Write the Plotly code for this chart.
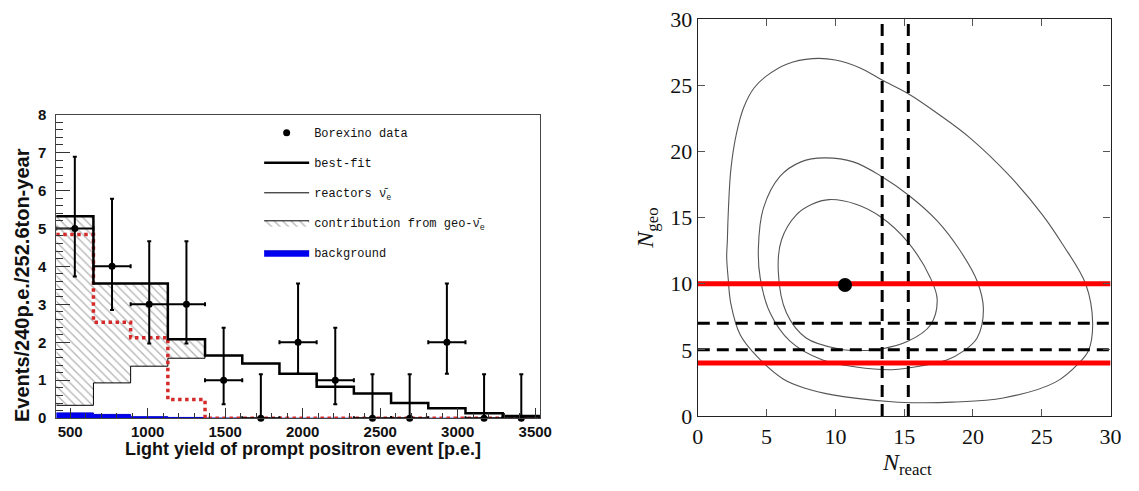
import plotly.graph_objects as go

# ---------------- Left panel data ----------------
bin_edges = [410, 650, 890, 1130, 1370, 1610, 1850, 2090, 2330, 2570, 2810, 3050, 3290, 3530]
bin_centers = [530, 770, 1010, 1250, 1490, 1730, 1970, 2210, 2450, 2690, 2930, 3170, 3410]
data_counts = [5, 4, 3, 3, 1, 0, 2, 1, 0, 0, 2, 0, 0]
data_err_up = [1.89, 1.78, 1.66, 1.66, 1.38, 1.16, 1.55, 1.38, 1.16, 1.16, 1.55, 1.16, 1.16]
data_err_down = [1.27, 1.15, 1.03, 1.03, 0.63, 0, 0.83, 0.63, 0, 0, 0.83, 0, 0]
bin_half_width = 120
best_fit = [5.32, 3.55, 3.55, 2.08, 1.65, 1.44, 1.17, 0.83, 0.65, 0.40, 0.26, 0.13, 0.06]
reactors = [0.34, 0.93, 1.37, 1.58, 1.65, 1.44, 1.17, 0.83, 0.65, 0.40, 0.26, 0.13, 0.06]
geo_spectrum = [4.84, 2.53, 2.12, 0.49, 0, 0, 0, 0, 0, 0, 0, 0, 0]
background = [0.14, 0.10, 0.04, 0.02, 0.005, 0, 0, 0, 0, 0, 0, 0, 0]

# ---------------- Right panel data ----------------
contour_outer_x = [2.1, 2.15, 2.2, 2.4, 2.8, 3.35, 4.1, 5.0, 6.5, 8.35, 10.0, 11.8, 13.36, 15.3, 17.5, 19.8, 22.7, 25.05, 26.5, 28.2, 28.7, 28.4, 27.7, 26.0, 22.2, 18.5, 16.2, 14.1, 9.8, 7.8, 6.2, 4.3, 3.1, 2.4, 2.2, 2.1]
contour_outer_y = [12.0, 13.3, 15.0, 18.6, 21.3, 23.35, 24.8, 25.7, 26.6, 27.0, 26.9, 26.3, 25.4, 24.35, 22.8, 21.0, 18.1, 15.2, 13.0, 9.96, 7.0, 4.95, 4.0, 2.56, 1.36, 1.05, 1.0, 1.08, 1.6, 2.1, 2.8, 4.5, 6.1, 8.5, 10.5, 12.0]
contour_mid_x = [4.4, 4.77, 5.97, 7.5, 9.2, 11.3, 13.36, 15.3, 17.4, 19.0, 20.3, 20.76, 20.3, 19.3, 18.1, 15.3, 14.1, 11.5, 9.07, 6.7, 5.25, 4.54, 4.4]
contour_mid_y = [12.6, 15.7, 18.1, 19.2, 19.5, 19.2, 18.1, 16.7, 14.75, 12.6, 10.2, 8.06, 5.9, 4.9, 4.23, 3.63, 3.5, 3.7, 4.23, 5.66, 7.8, 10.4, 12.6]
contour_in_x = [5.85, 6.08, 7.16, 8.3, 9.55, 11.5, 13.36, 15.3, 16.9, 17.4, 16.9, 15.3, 13.36, 11.8, 10.26, 7.87, 6.44, 5.85]
contour_in_y = [10.9, 13.3, 15.2, 16.0, 16.35, 16.0, 15.0, 13.1, 10.45, 8.8, 6.86, 5.66, 5.07, 4.95, 5.07, 5.9, 7.8, 10.9]
best_point = (10.7, 9.9)
red_geo_levels = [10, 4]
dashed_geo_levels = [7, 5]
dashed_react_levels = [13.4, 15.3]
right_range = [0, 30]
right_ticks = [0, 5, 10, 15, 20, 25, 30]


def steps(vals):
    return vals + [vals[-1]]


fig = go.Figure()

# reactors (thin line) - base for hatch
fig.add_trace(go.Scatter(
    x=bin_edges, y=steps(reactors), mode="lines", line=dict(color="black", width=1, shape="hv"),
    name="reactors ν̄<sub>e</sub>", legendrank=3, legendgroup="c", xaxis="x", yaxis="y"))
# geo contribution hatch
fig.add_trace(go.Scatter(
    x=bin_edges, y=steps(best_fit), mode="lines", line=dict(color="black", width=1, shape="hv"),
    fill="tonexty", fillcolor="white",
    fillpattern=dict(shape="\\", fgcolor="#6a6a6a", bgcolor="white", size=6, solidity=0.22),
    name="contribution from geo-ν̄<sub>e</sub>", legendrank=4, legendgroup="d", xaxis="x", yaxis="y"))
# background
fig.add_trace(go.Scatter(
    x=bin_edges, y=steps(background), mode="lines", line=dict(color="#0000cc", width=1, shape="hv"),
    fill="tozeroy", fillcolor="#0000f0",
    name="background", legendrank=5, legendgroup="e", xaxis="x", yaxis="y"))
# geo spectrum red dotted
fig.add_trace(go.Scatter(
    x=bin_edges, y=steps(geo_spectrum), mode="lines",
    line=dict(color="#d42a2a", width=3.5, shape="hv", dash="dot"),
    showlegend=False, xaxis="x", yaxis="y"))
# best fit thick
fig.add_trace(go.Scatter(
    x=bin_edges, y=steps(best_fit), mode="lines", line=dict(color="black", width=2.5, shape="hv"),
    name="best-fit", legendrank=2, legendgroup="b", xaxis="x", yaxis="y"))
# data
fig.add_trace(go.Scatter(
    x=bin_centers, y=data_counts, mode="markers",
    marker=dict(color="black", size=7),
    error_y=dict(type="data", symmetric=False, array=data_err_up, arrayminus=data_err_down,
                 color="black", thickness=2, width=2),
    error_x=dict(type="constant", value=bin_half_width, color="black", thickness=2, width=2),
    name="Borexino data", legendrank=1, legendgroup="a", cliponaxis=False, xaxis="x", yaxis="y"))

# ---------------- Right panel ----------------
for cx, cy in [(contour_outer_x, contour_outer_y), (contour_mid_x, contour_mid_y), (contour_in_x, contour_in_y)]:
    fig.add_trace(go.Scatter(x=cx, y=cy, mode="lines",
                             line=dict(color="#555555", width=1.1, shape="spline", smoothing=1.0),
                             showlegend=False, xaxis="x2", yaxis="y2"))
for lv in dashed_geo_levels:
    fig.add_trace(go.Scatter(x=right_range, y=[lv, lv], mode="lines",
                             line=dict(color="black", width=3, dash="12px,7px"),
                             showlegend=False, xaxis="x2", yaxis="y2"))
for lv in dashed_react_levels:
    fig.add_trace(go.Scatter(x=[lv, lv], y=right_range, mode="lines",
                             line=dict(color="black", width=3, dash="12px,7px"),
                             showlegend=False, xaxis="x2", yaxis="y2"))
for lv in red_geo_levels:
    fig.add_trace(go.Scatter(x=right_range, y=[lv, lv], mode="lines",
                             line=dict(color="#ff0000", width=5),
                             showlegend=False, xaxis="x2", yaxis="y2"))
fig.add_trace(go.Scatter(x=[best_point[0]], y=[best_point[1]], mode="markers",
                         marker=dict(color="black", size=14),
                         showlegend=False, xaxis="x2", yaxis="y2"))

W, H = 1139, 491
sans_bold = dict(family="Liberation Sans, Arial, sans-serif", size=15, color="#111", weight="bold")
serif = dict(family="Liberation Serif, Times New Roman, serif", size=22, color="#111")

fig.update_layout(
    width=W, height=H, margin=dict(l=0, r=0, t=0, b=0),
    paper_bgcolor="white", plot_bgcolor="white",
    showlegend=True,
    legend=dict(x=258 / W, y=1 - 112 / H, xanchor="left", yanchor="top",
                font=dict(family="Liberation Mono, Courier New, monospace", size=12, color="#111"),
                bgcolor="rgba(0,0,0,0)", traceorder="grouped", tracegroupgap=11, itemwidth=45),
    xaxis=dict(domain=[52 / W, 543 / W], range=[bin_edges[0], bin_edges[-1]], anchor="y",
               tickvals=[500, 1000, 1500, 2000, 2500, 3000, 3500], ticks="inside", ticklen=10,
               tickwidth=1, tickcolor="#333",
               minor=dict(dtick=100, ticks="inside", ticklen=5, tickcolor="#333"),
               showline=True, linecolor="#444", linewidth=1, mirror=True, showgrid=False,
               zeroline=False, tickfont=sans_bold),
    yaxis=dict(domain=[(H - 428) / H, (H - 108) / H], range=[0, 8], anchor="x",
               dtick=1, ticks="inside", ticklen=14, tickwidth=1, tickcolor="#333",
               minor=dict(dtick=0.2, ticks="inside", ticklen=7, tickcolor="#333"),
               showline=True, linecolor="#444", linewidth=1, mirror=True, showgrid=False,
               zeroline=False, tickfont=sans_bold, ticklabelstandoff=6),
    xaxis2=dict(domain=[703.3 / W, 1122.3 / W], range=right_range, anchor="y2",
                tickvals=right_ticks, ticks="inside", ticklen=7, tickwidth=1.2, tickcolor="#555",
                showline=True, linecolor="#222", linewidth=1.3, mirror="ticks", showgrid=False,
                zeroline=False, tickfont=serif),
    yaxis2=dict(domain=[(H - 425.7) / H, (H - 7.3) / H], range=right_range, anchor="x2",
                tickvals=right_ticks, ticks="inside", ticklen=7, tickwidth=1.2, tickcolor="#555",
                showline=True, linecolor="#222", linewidth=1.3, mirror="ticks", showgrid=False,
                zeroline=False, tickfont=serif),
    annotations=[
        dict(text="Light yield of prompt positron event [p.e.]", x=303 / W, y=1 - 460 / H,
             xref="paper", yref="paper", xanchor="center", yanchor="middle", showarrow=False,
             font=dict(family="Liberation Sans, Arial, sans-serif", size=18, color="#111", weight="bold")),
        dict(text="Events/240p.e./252.6ton-year", x=18 / W, y=1 - 288 / H, textangle=-90,
             xref="paper", yref="paper", xanchor="center", yanchor="middle", showarrow=False,
             font=dict(family="Liberation Sans, Arial, sans-serif", size=20, color="#111", weight="bold")),
        dict(text="<i>N</i><sub>react</sub>", x=916 / W, y=1 - 476 / H,
             xref="paper", yref="paper", xanchor="center", yanchor="middle", showarrow=False,
             font=dict(family="Liberation Serif, Times New Roman, serif", size=24, color="#111")),
        dict(text="<i>N</i><sub>geo</sub>", x=652 / W, y=1 - 228 / H, textangle=-90,
             xref="paper", yref="paper", xanchor="center", yanchor="middle", showarrow=False,
             font=dict(family="Liberation Serif, Times New Roman, serif", size=24, color="#111")),
    ],
)

fig.write_html("out.html")
